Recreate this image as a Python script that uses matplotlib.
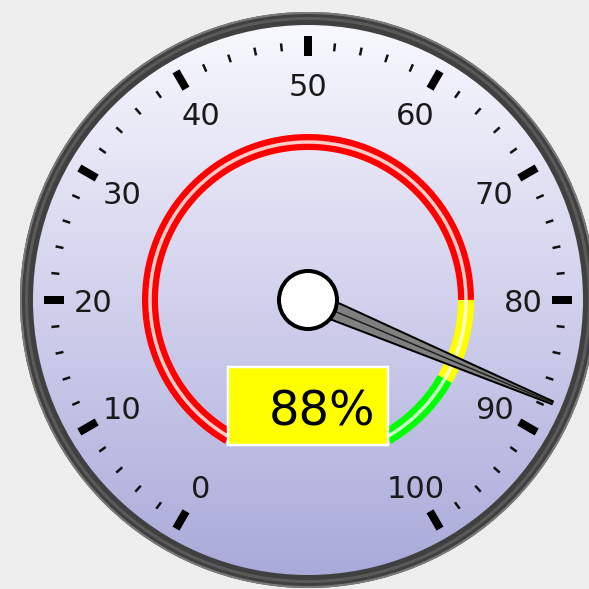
import numpy as np
import matplotlib
matplotlib.use("Agg")
import matplotlib.pyplot as plt
from matplotlib.patches import Circle, Rectangle, Polygon

# gauge data
value = 88
scale_min, scale_max = 0, 100
major_step, minor_step = 10, 2
tick_labels = ["0", "10", "20", "30", "40", "50", "60", "70", "80", "90", "100"]
band_starts = [0, 80, 90]
band_ends = [80, 90, 100]
band_colors = ["#ff0000", "#ffff00", "#00ff00"]
value_text = f"{value}%"

# geometry in pixels (y grows downward)
W = 589
cx, cy = 308, 300
start_deg, sweep_deg = 240, 300


def angle(v):
    return np.radians(start_deg - sweep_deg * (v - scale_min) / (scale_max - scale_min))


def pt(v, r):
    a = angle(v)
    return cx + r * np.cos(a), cy - r * np.sin(a)


px = 0.72  # points per pixel at dpi 100

fig = plt.figure(figsize=(5.89, 5.89), dpi=100)
fig.patch.set_facecolor("#eeeeee")
ax = fig.add_axes([0, 0, 1, 1])
ax.set_xlim(0, W)
ax.set_ylim(W, 0)
ax.set_aspect("equal")
ax.axis("off")

# face with vertical gradient
R_out = 288
top = np.array([0.98, 0.98, 1.0])
bot = np.array([0.66, 0.66, 0.855])
t = np.linspace(0, 1, 256)[:, None, None]
grad = top * (1 - t) + bot * t
face = Circle((cx, cy), R_out - 6, transform=ax.transData)
im = ax.imshow(grad, extent=[cx - R_out, cx + R_out, cy + R_out, cy - R_out],
               origin="upper", aspect="auto", zorder=1)
im.set_clip_path(face)

# outer ring
ax.add_patch(Circle((cx, cy), R_out - 6.5, fill=False, ec="#404040", lw=13 * px, zorder=2))
ax.add_patch(Circle((cx, cy), R_out - 6.5, fill=False, ec="#5a5a5a", lw=3 * px, zorder=2))
ax.add_patch(Circle((cx, cy), R_out - 1, fill=False, ec="#7a7a7a", lw=2 * px, zorder=2))

# ticks
for v in range(scale_min, scale_max + 1, minor_step):
    if v % major_step == 0:
        x0, y0 = pt(v, 244)
        x1, y1 = pt(v, 264)
        ax.plot([x0, x1], [y0, y1], color="black", lw=8 * px, solid_capstyle="butt", zorder=3)
    else:
        x0, y0 = pt(v, 250)
        x1, y1 = pt(v, 258)
        ax.plot([x0, x1], [y0, y1], color="#111111", lw=2.5 * px, solid_capstyle="butt", zorder=3)

# tick labels
for i, lab in enumerate(tick_labels):
    v = scale_min + i * major_step
    x, y = pt(v, 215)
    ax.text(x, y + 11.5, lab, ha="center", va="baseline", fontsize=22,
            family="DejaVu Sans", color="#1a1a1a", zorder=4)

# colour bands
for s, e, c in zip(band_starts, band_ends, band_colors):
    vs = np.linspace(s, e, 100)
    xs, ys = pt(vs, 158)
    ax.plot(xs, ys, color=c, lw=16 * px, solid_capstyle="butt", zorder=5)
    ax.plot(xs, ys, color="white", lw=3.5 * px, alpha=0.8, solid_capstyle="butt", zorder=5)

# value box
ax.add_patch(Rectangle((228, 367), 160, 78, fc="#ffff00", ec="white", lw=2.5 * px, zorder=6))
ax.text(322, 425, value_text, ha="center", va="baseline", fontsize=34.5,
        family="DejaVu Sans", color="black", zorder=7)

# needle
a = angle(value) + np.radians(1.2)
ux, uy = np.cos(a), -np.sin(a)
nx, ny = -uy, ux
L = 265
hw, tw = 10, 1.5
needle = Polygon([(cx + hw * nx, cy + hw * ny),
                  (cx + L * ux + tw * nx, cy + L * uy + tw * ny),
                  (cx + L * ux - tw * nx, cy + L * uy - tw * ny),
                  (cx - hw * nx, cy - hw * ny)],
                 closed=True, fc="#808080", ec="black", lw=2 * px, zorder=8)
ax.add_patch(needle)
ax.plot([cx, cx + L * ux], [cy, cy + L * uy], color="#1e1e1e", lw=1.5 * px, zorder=8)

# hub
ax.add_patch(Circle((cx, cy), 29, fc="white", ec="black", lw=4 * px, zorder=9))

fig.savefig("out.png", dpi=100, facecolor=fig.get_facecolor())
